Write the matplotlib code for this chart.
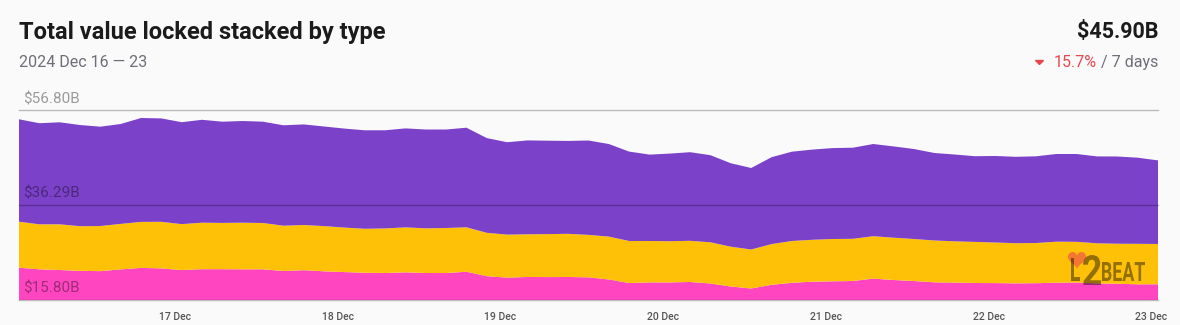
import matplotlib
matplotlib.use('Agg')
import matplotlib.pyplot as plt
import matplotlib.transforms as mtransforms
from matplotlib.textpath import TextPath
from matplotlib.patches import PathPatch, Polygon
from matplotlib.font_manager import FontProperties
import numpy as np
import pandas as pd

# TVL by bridge type, USD billions, sampled every 3 hours
times = pd.date_range('2024-12-16 01:00', periods=57, freq='3h')

canonical = [22.16, 21.87, 22.07, 21.89, 21.49, 21.61, 22.48, 22.37, 22.05, 22.26,
             21.90, 22.00, 21.92, 21.72, 21.76, 21.55, 21.42, 21.31, 21.23, 21.42,
             21.38, 21.31, 21.55, 20.49, 19.99, 20.31, 20.21, 20.10, 20.42, 20.03,
             19.34, 18.69, 18.96, 19.17, 18.84, 18.05, 17.63, 18.80, 19.32, 19.51,
             19.67, 19.71, 19.94, 19.75, 19.47, 18.93, 18.78, 18.54, 18.72, 18.69,
             18.76, 18.97, 19.00, 18.80, 18.87, 18.63, 18.09]
external = [9.95, 9.74, 9.89, 9.67, 9.76, 9.85, 9.95, 10.08, 9.95, 10.06,
            10.01, 10.09, 10.02, 9.80, 9.78, 9.78, 9.63, 9.52, 9.65, 9.72,
            9.67, 9.74, 9.61, 9.39, 9.30, 9.24, 9.30, 9.34, 9.18, 9.28,
            9.09, 8.96, 8.91, 8.91, 8.92, 8.61, 8.44, 8.81, 9.05, 9.07,
            9.15, 9.13, 9.18, 9.15, 9.09, 9.05, 8.93, 8.89, 8.78, 8.68,
            8.69, 8.88, 8.80, 8.68, 8.67, 8.76, 8.72]
native = [22.68, 22.33, 22.18, 21.99, 21.94, 22.31, 22.64, 22.53, 22.16, 22.36,
          22.36, 22.33, 22.33, 21.97, 22.14, 21.90, 21.73, 21.58, 21.53, 21.68,
          21.53, 21.53, 21.81, 20.84, 20.54, 20.67, 20.65, 20.67, 20.60, 20.13,
          19.37, 19.50, 19.50, 19.59, 19.26, 18.61, 18.18, 18.98, 19.41, 19.65,
          19.74, 19.80, 20.32, 20.02, 19.80, 19.52, 19.46, 19.37, 19.35, 19.30,
          19.33, 19.43, 19.48, 19.28, 19.20, 19.09, 19.09]

y_ticks = [15.80, 36.29, 56.80]
y_labels = [r'\$15.80B', r'\$36.29B', r'\$56.80B']
x_ticks = pd.date_range('2024-12-17', '2024-12-23', freq='D')
x_labels = ['17 Dec', '18 Dec', '19 Dec', '20 Dec', '21 Dec', '22 Dec', '23 Dec']

title = 'Total value locked stacked by type'
date_span = '2024 Dec 16 \u2014 23'
total_label = r'\$45.90B'
change_label = '15.7%'
period_label = ' / 7 days'

BG = '#FAFAFA'
PURPLE = '#7B41C9'
YELLOW = '#FFC107'
PINK = '#FF46C0'
RED = '#E5484D'
GRAY = '#6E6E78'

plt.rcParams['font.family'] = ['Roboto', 'DejaVu Sans']

W, H = 1180, 325
fig = plt.figure(figsize=(W / 100, H / 100), dpi=100, facecolor=BG)
ax = fig.add_axes([19 / W, 25.5 / H, 1139 / W, 189.5 / H])
ax.set_facecolor(BG)

ax.stackplot(times, native, external, canonical,
             colors=[PINK, YELLOW, PURPLE], linewidth=0)
ax.set_xlim(times[0], times[-1])
ax.set_ylim(y_ticks[0], y_ticks[-1])

for v, lab in zip(y_ticks, y_labels):
    ax.axhline(v, color='black', alpha=0.25, lw=1, zorder=3, clip_on=False)
    ax.annotate(lab, xy=(0, v), xycoords=ax.get_yaxis_transform(),
                xytext=(4, 7), textcoords='offset pixels', ha='left',
                va='baseline', fontsize=11, color='black', alpha=0.38, zorder=4)

ax.set_yticks([])
ax.set_xticks(x_ticks)
ax.set_xticklabels(x_labels, fontsize=7.5, color='#555555', fontweight='medium')
ax.tick_params(axis='x', length=0, pad=9)
for s in ax.spines.values():
    s.set_visible(False)

# header
fig.text(19 / W, 1 - 39.3 / H, title, ha='left', va='baseline',
         fontsize=17, fontweight='bold', color='#1B1B1B')
fig.text(19 / W, 1 - 66.7 / H, date_span, ha='left', va='baseline',
         fontsize=11.5, color=GRAY)
fig.text(1158 / W, 1 - 38.3 / H, total_label, ha='right', va='baseline',
         fontsize=15.5, fontweight='bold', color='#1B1B1B')

fig.canvas.draw()
renderer = fig.canvas.get_renderer()
t_period = fig.text(1158 / W, 1 - 66.7 / H, period_label, ha='right',
                    va='baseline', fontsize=11.5, color=GRAY)
x0 = t_period.get_window_extent(renderer).x0
t_change = fig.text(x0 / W, 1 - 66.7 / H, change_label, ha='right',
                    va='baseline', fontsize=11.5, color=RED)
x1 = t_change.get_window_extent(renderer).x0 - 10
tri_y = H - 64.5
px = mtransforms.Affine2D().scale(1 / W, 1 / H) + fig.transFigure
fig.add_artist(Polygon([(x1 - 8, tri_y + 4), (x1, tri_y + 4), (x1 - 4, tri_y)],
                       closed=True, color=RED, transform=px))

# watermark: heart behind the L2BEAT lettering
t = np.linspace(0, 2 * np.pi, 120)
hx = 16 * np.sin(t) ** 3
hy = 13 * np.cos(t) - 5 * np.cos(2 * t) - 2 * np.cos(3 * t) - np.cos(4 * t)
hx = 1068 + (hx - hx.min()) / np.ptp(hx) * 18
hy = (H - 269) + (hy - hy.min()) / np.ptp(hy) * 17
fig.add_artist(Polygon(np.column_stack([hx, hy]), closed=True, facecolor='#F2643F',
                       edgecolor='none', alpha=0.8, transform=px, zorder=5))


def logo_piece(s, box, color, alpha):
    path = TextPath((0, 0), s, size=40, prop=FontProperties(family='Roboto', weight='bold'))
    ext = path.get_extents()
    bx0, by0, bx1, by1 = box
    tr = (mtransforms.Affine2D()
          .translate(-ext.x0, -ext.y0)
          .scale((bx1 - bx0) / ext.width, (by1 - by0) / ext.height)
          .translate(bx0, H - by1) + px)
    fig.add_artist(PathPatch(path, transform=tr, facecolor=color, edgecolor='none',
                             alpha=alpha, zorder=6))


logo_piece('L', (1071, 258, 1080, 281), 'black', 0.42)
logo_piece('2', (1083, 255, 1101, 285), 'black', 0.42)
logo_piece('BEAT', (1102, 262, 1145, 281), 'black', 0.42)

fig.savefig('out.png', dpi=100, facecolor=BG)
